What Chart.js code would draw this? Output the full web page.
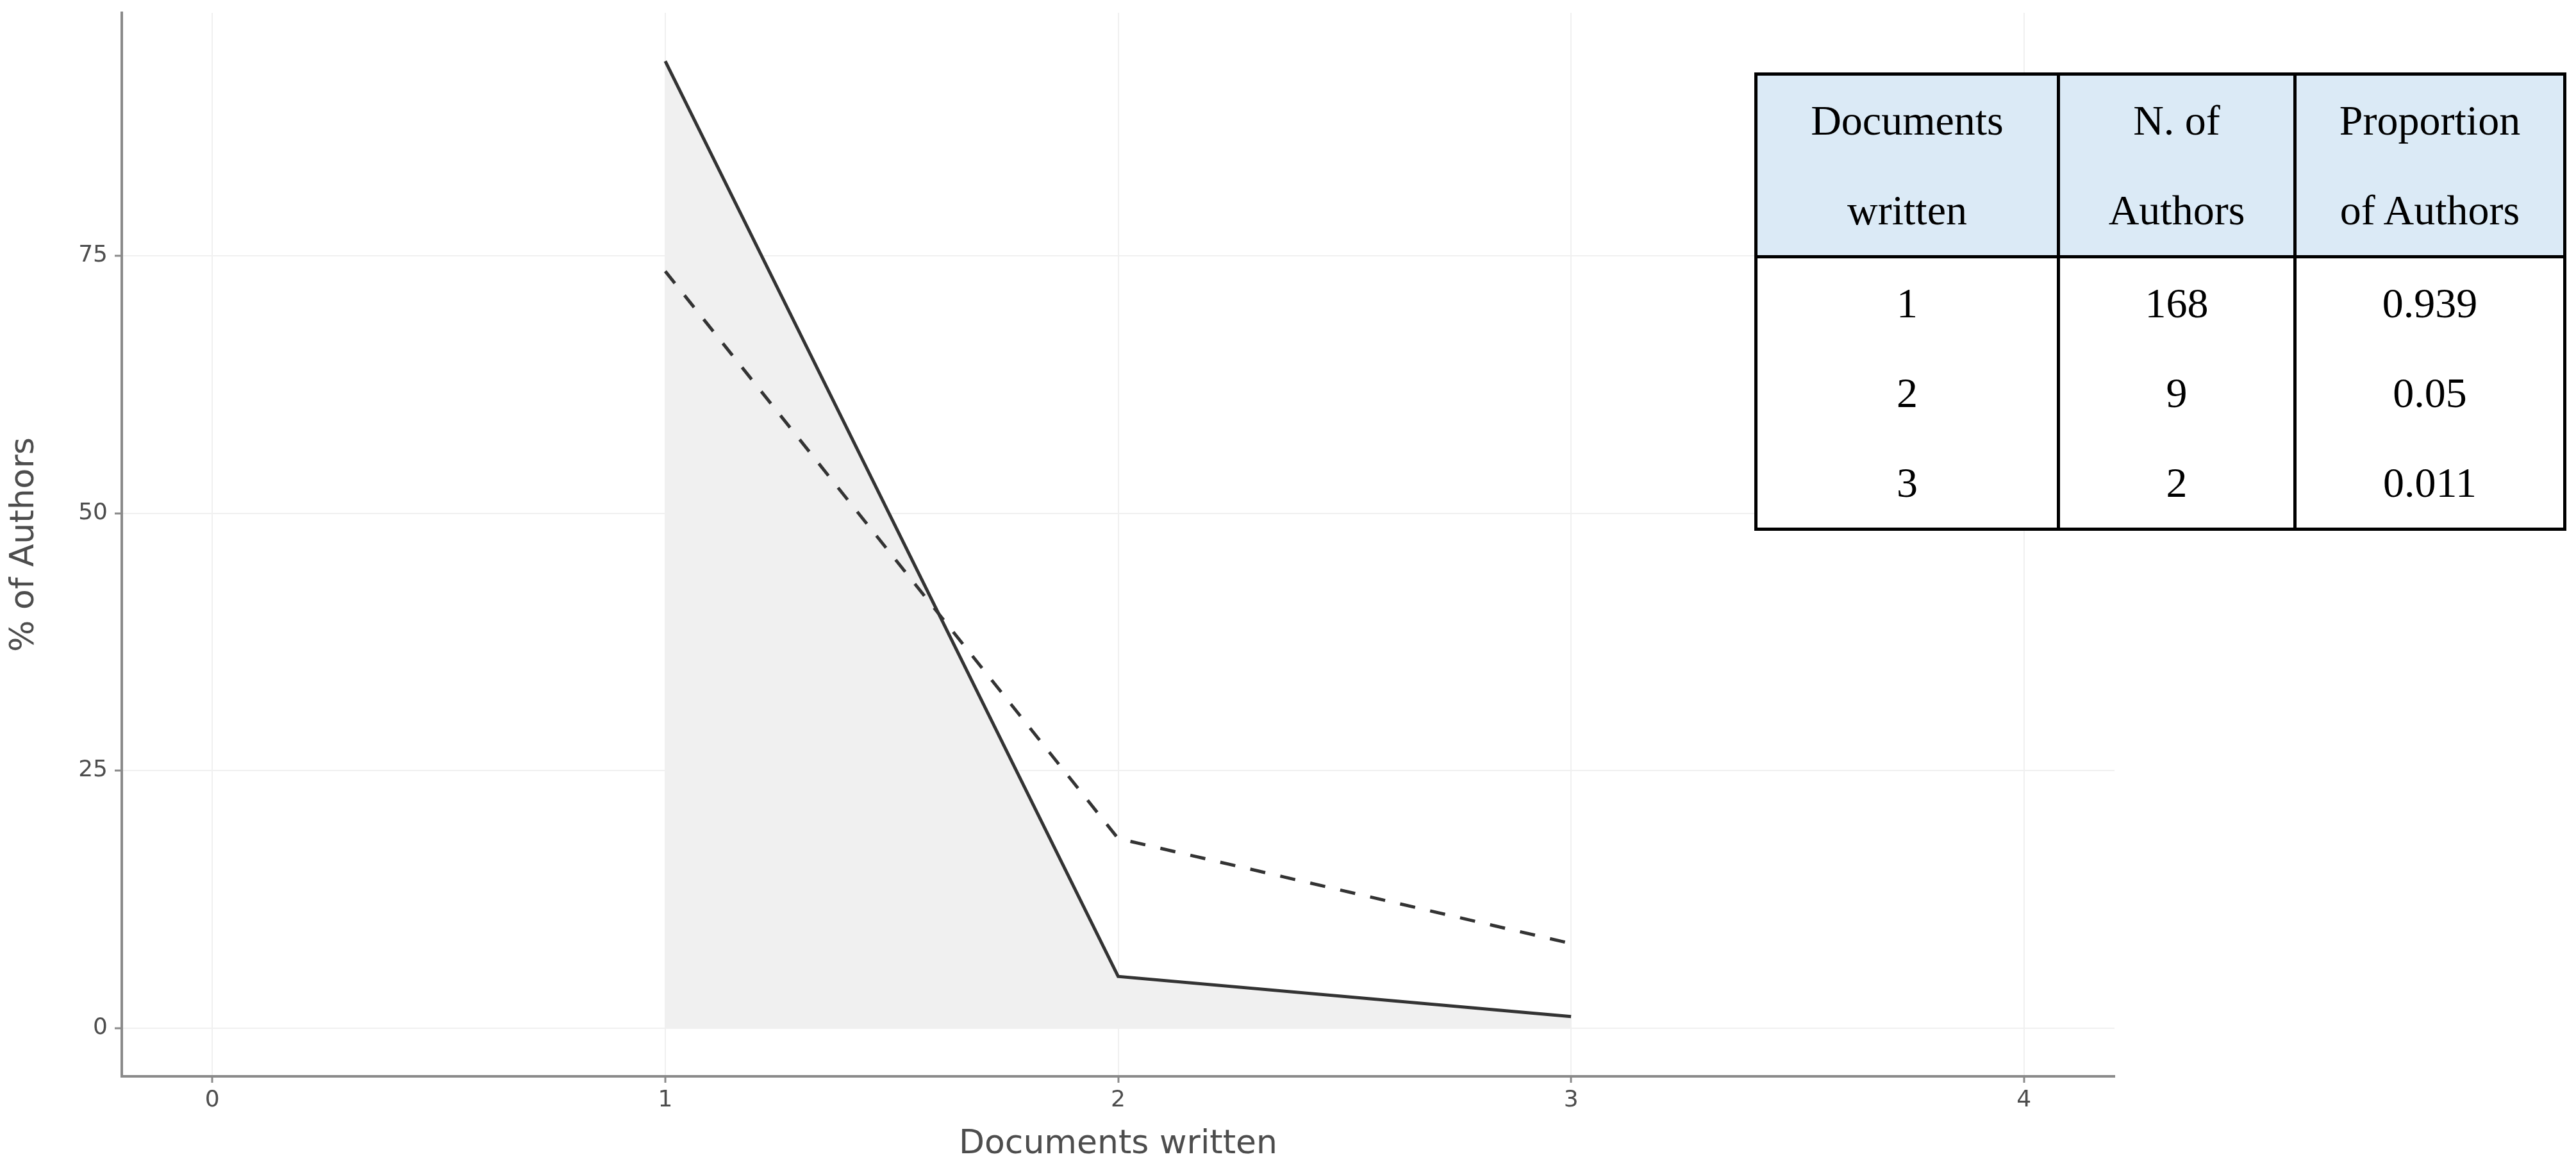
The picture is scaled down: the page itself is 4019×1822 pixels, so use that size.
<!DOCTYPE html>
<html>
<head>
<meta charset="utf-8">
<script src="https://cdn.jsdelivr.net/npm/chart.js@4.4.1/dist/chart.umd.min.js"></script>
<style>
    html, body { margin: 0; padding: 0; background: #fff; }
    #wrap { position: relative; width: 4019px; height: 1822px; }
    #chart { position: absolute; left: 0; top: 0; }
    #summary {
        position: absolute; left: 2737px; top: 113px; width: 1262px;
        border-collapse: collapse; table-layout: fixed;
        border: 5px solid #000; background: #fff;
        font-family: 'Liberation Serif', serif; font-size: 66px; color: #000;
    }
    #summary th, #summary td { border-left: 5px solid #000; border-right: 5px solid #000; text-align: center; padding: 0; font-weight: normal; }
    #summary th { background: #dbeaf6; height: 277px; line-height: 140px; border-bottom: 5px solid #000; }
    #summary td { height: 140px; line-height: 140px; }
</style>
</head>
<body>
<div id="wrap">
    <canvas id="chart" width="4019" height="1822"></canvas>
    <table id="summary">
        <colgroup><col style="width:472px"><col style="width:369px"><col style="width:421px"></colgroup>
        <thead><tr></tr></thead>
        <tbody></tbody>
    </table>
</div>
<script>
// Data
const docsWritten = [1, 2, 3];
const observedPct = [93.9, 5.0, 1.1];
const lotkaPct = [73.5, 18.4, 8.2];
const xTicks = [0, 1, 2, 3, 4];
const yTicks = [0, 25, 50, 75];

const tableHeaders = [['Documents', 'written'], ['N. of', 'Authors'], ['Proportion', 'of Authors']];
const nAuthors = [168, 9, 2];
const propAuthors = ['0.939', '0.05', '0.011'];

const ink = '#333333';
const axisGrey = '#8a8a8a';
const textGrey = '#4d4d4d';

// table in the top right corner
const headRow = document.querySelector('#summary thead tr');
tableHeaders.forEach(lines => {
    const th = document.createElement('th');
    th.innerHTML = lines.join('<br>');
    headRow.appendChild(th);
});
const body = document.querySelector('#summary tbody');
docsWritten.forEach((d, i) => {
    const tr = document.createElement('tr');
    [d, nAuthors[i], propAuthors[i]].forEach(v => {
        const td = document.createElement('td');
        td.textContent = v;
        tr.appendChild(td);
    });
    body.appendChild(tr);
});

const toPoints = ys => docsWritten.map((x, i) => ({x: x, y: ys[i]}));

Chart.defaults.font.family = "'DejaVu Sans', sans-serif";

const chart = new Chart(document.getElementById('chart'), {
    type: 'line',
    data: {
        datasets: [
            {
                label: 'Observed',
                data: toPoints(observedPct),
                borderColor: ink,
                borderWidth: 5,
                backgroundColor: '#f0f0f0',
                fill: 'origin',
                pointRadius: 0,
                tension: 0
            },
            {
                label: 'Theoretical',
                data: toPoints(lotkaPct),
                borderColor: ink,
                borderWidth: 5,
                borderDash: [24, 24],
                fill: false,
                pointRadius: 0,
                tension: 0
            }
        ]
    },
    options: {
        responsive: false,
        animation: false,
        devicePixelRatio: 1,
        layout: { padding: { top: 20, right: 720, left: 0, bottom: 0 } },
        plugins: {
            legend: { display: false },
            tooltip: { enabled: false },
            filler: { drawTime: 'beforeDatasetsDraw' }
        },
        scales: {
            x: {
                type: 'linear',
                min: -0.2,
                max: 4.2,
                afterBuildTicks: s => { s.ticks = xTicks.map(v => ({value: v})); },
                afterFit: s => { s.height = 143; s.paddingLeft = 0; s.paddingRight = 0; },
                grid: { color: '#f0f0f0', lineWidth: 2, tickLength: 10, tickColor: axisGrey, tickWidth: 3 },
                border: { color: axisGrey, width: 4 },
                ticks: { color: textGrey, font: { size: 36 }, padding: 6, maxRotation: 0 },
                title: { display: true, text: 'Documents written', color: textGrey, font: { size: 52 }, padding: { top: 0, bottom: 5 } }
            },
            y: {
                min: -4.7,
                max: 98.6,
                afterBuildTicks: s => { s.ticks = yTicks.map(v => ({value: v})); },
                afterFit: s => { s.width = 190; s.paddingTop = 0; s.paddingBottom = 0; },
                grid: { color: '#f0f0f0', lineWidth: 2, tickLength: 11, tickColor: axisGrey, tickWidth: 3 },
                border: { color: axisGrey, width: 4 },
                ticks: { color: textGrey, font: { size: 36 }, padding: 11 },
                title: { display: true, text: '% of Authors', color: textGrey, font: { size: 52 }, padding: { top: 7, bottom: 0 } }
            }
        }
    }
});
</script>
</body>
</html>
